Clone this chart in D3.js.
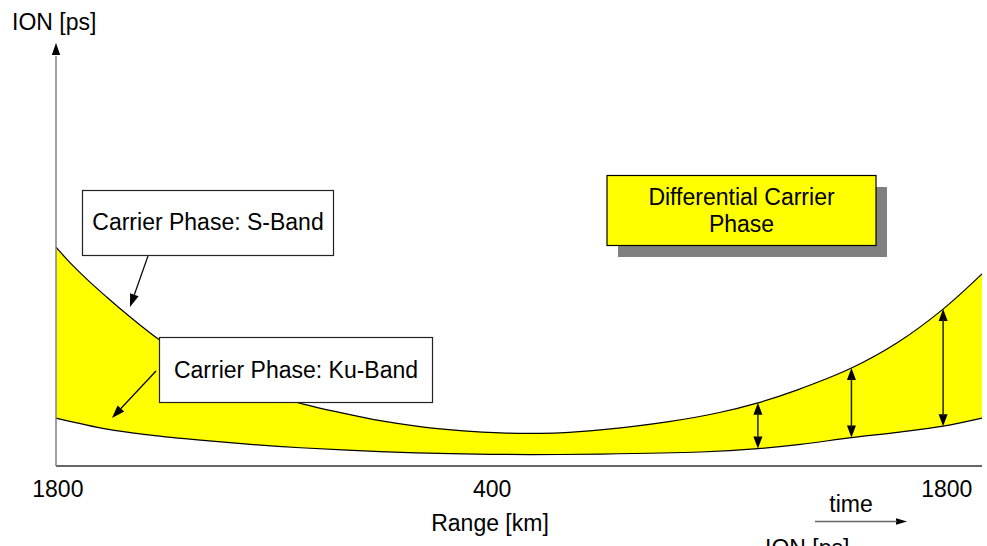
<!DOCTYPE html>
<html>
<head>
<meta charset="utf-8">
<script src="https://cdn.jsdelivr.net/npm/d3@7"></script>
<style>
  html, body { margin: 0; padding: 0; background: #fff; }
  svg { display: block; }
  text { font-family: "Liberation Sans", Arial, sans-serif; font-size: 23px; fill: #000; }
</style>
</head>
<body>
<svg id="chart" width="987" height="546"></svg>
<script>
// ---- data (time in % of pass, ION in arbitrary ps units) ----
const sBandTime = [0, 1.8, 3.7, 5.5, 7.2, 9.1, 11.2, 15.6, 21.0, 26.7, 30.7, 35.0, 39.3, 44.0, 48.0, 51.2, 54.4, 58.8, 66.0, 71.4, 75.8, 80.0, 85.9, 90.8, 95.8, 100];
const sBandIon  = [51.6, 47.3, 43.3, 39.8, 36.6, 33.2, 29.7, 23.6, 18.2, 14.6, 12.6, 10.7, 9.3, 8.3, 7.8, 7.7, 7.8, 8.5, 10.4, 12.5, 14.9, 17.9, 23.1, 29.0, 37.0, 45.3];
const kuBandTime = [0, 5.5, 10.2, 15.6, 21.0, 26.4, 35.0, 42.6, 51.2, 58.8, 69.6, 75.8, 80.4, 85.9, 91.1, 95.8, 100];
const kuBandIon  = [11.3, 8.7, 7.3, 6.1, 5.1, 4.3, 3.4, 2.9, 2.7, 2.8, 3.3, 4.1, 5.1, 6.7, 8.0, 9.4, 11.3];
const diffTime   = [75.8, 85.9, 95.8];
const diffTop    = [14.9, 23.1, 37.0];
const diffBottom = [4.1, 6.7, 9.4];
const tickTime   = [0.2, 47.1, 96.2];
const tickLabels = ["1800", "400", "1800"];

const svg = d3.select("#chart");
const x = d3.scaleLinear().domain([0, 100]).range([56, 982]);
const y = d3.scaleLinear().domain([0, 100]).range([466, 42]);

const sBand = sBandTime.map((t, i) => ({t, v: sBandIon[i]}));
const kuBand = kuBandTime.map((t, i) => ({t, v: kuBandIon[i]}));

// arrow head helper
function head(g, x1, y1, x2, y2, len, hw, fill) {
  const dx = x2 - x1, dy = y2 - y1, L = Math.hypot(dx, dy);
  const ux = dx / L, uy = dy / L;
  const bx = x2 - ux * len, by = y2 - uy * len;
  g.append("path")
    .attr("d", `M${x2},${y2}L${bx - uy * hw},${by + ux * hw}L${bx + uy * hw},${by - ux * hw}Z`)
    .attr("fill", fill || "#000");
  return [bx, by];
}

// ---- filled band between the two curves ----
const line = d3.line().x(d => x(d.t)).y(d => y(d.v)).curve(d3.curveCatmullRom.alpha(0.5));
const upPath = line(sBand);
const loRevPath = line(kuBand.slice().reverse()).replace(/^M/, "L");
svg.append("path").attr("d", upPath + loRevPath + "Z").attr("fill", "#ffff00");

svg.append("path").attr("d", line(sBand)).attr("fill", "none").attr("stroke", "#000").attr("stroke-width", 1.2);
svg.append("path").attr("d", line(kuBand)).attr("fill", "none").attr("stroke", "#000").attr("stroke-width", 1.2);

// ---- axes ----
const axes = svg.append("g");
axes.append("line").attr("x1", x(0)).attr("x2", x(100)).attr("y1", y(0)).attr("y2", y(0))
  .attr("stroke", "#333").attr("stroke-width", 1.5);
const [yb1, yb2] = head(axes, x(0), y(0), x(0), 43, 12, 4.2, "#000");
axes.append("line").attr("x1", x(0)).attr("x2", x(0)).attr("y1", y(0)).attr("y2", yb2 + 1)
  .attr("stroke", "#808080").attr("stroke-width", 1.5);

svg.append("text").attr("x", 12).attr("y", 30).text("ION [ps]");

svg.append("g").selectAll("text").data(tickTime).join("text")
  .attr("x", d => x(d)).attr("y", 497).attr("text-anchor", "middle")
  .text((d, i) => tickLabels[i]);

svg.append("text").attr("x", 490).attr("y", 531).attr("text-anchor", "middle").text("Range [km]");

// time arrow
svg.append("text").attr("x", 851).attr("y", 512).attr("text-anchor", "middle").text("time");
const tg = svg.append("g");
const [tb] = head(tg, 815, 521.5, 907, 521.5, 11, 3.2, "#000");
tg.append("line").attr("x1", 815).attr("x2", tb + 1).attr("y1", 521.5).attr("y2", 521.5)
  .attr("stroke", "#666").attr("stroke-width", 1.5);

svg.append("text").attr("x", 765).attr("y", 555.5).text("ION [ps]");

// ---- double arrows (differential) ----
const dg = svg.append("g");
diffTime.forEach((t, i) => {
  const xx = x(t), yt = y(diffTop[i]), yb = y(diffBottom[i]);
  head(dg, xx, yb, xx, yt, 12, 4.5);
  head(dg, xx, yt, xx, yb, 12, 4.5);
  dg.append("line").attr("x1", xx).attr("x2", xx).attr("y1", yt + 10).attr("y2", yb - 10)
    .attr("stroke", "#222").attr("stroke-width", 1.5);
});

// ---- annotation boxes ----
// Differential Carrier Phase
svg.append("rect").attr("x", 618).attr("y", 187).attr("width", 269).attr("height", 70).attr("fill", "#808080");
svg.append("rect").attr("x", 607).attr("y", 175.5).attr("width", 269).attr("height", 70)
  .attr("fill", "#ffff00").attr("stroke", "#000").attr("stroke-width", 1.2);
svg.append("text").attr("x", 741.5).attr("y", 205).attr("text-anchor", "middle").text("Differential Carrier");
svg.append("text").attr("x", 741.5).attr("y", 232).attr("text-anchor", "middle").text("Phase");

// S-Band box + pointer
const sg = svg.append("g");
const [sbx, sby] = head(sg, 148, 256, 130, 307, 13, 4.5);
sg.append("line").attr("x1", 148).attr("y1", 256).attr("x2", sbx).attr("y2", sby).attr("stroke", "#000").attr("stroke-width", 1.2);
sg.append("rect").attr("x", 82.5).attr("y", 190.5).attr("width", 251).attr("height", 65)
  .attr("fill", "#fff").attr("stroke", "#222").attr("stroke-width", 1.2);
sg.append("text").attr("x", 208).attr("y", 230).attr("text-anchor", "middle").text("Carrier Phase: S-Band");

// Ku-Band box + pointer
const kg = svg.append("g");
const [kbx, kby] = head(kg, 156, 371, 112, 418, 13, 4.5);
kg.append("line").attr("x1", 156).attr("y1", 371).attr("x2", kbx).attr("y2", kby).attr("stroke", "#000").attr("stroke-width", 1.2);
kg.append("rect").attr("x", 159.5).attr("y", 337.5).attr("width", 273).attr("height", 65)
  .attr("fill", "#fff").attr("stroke", "#222").attr("stroke-width", 1.2);
kg.append("text").attr("x", 296).attr("y", 378).attr("text-anchor", "middle").text("Carrier Phase: Ku-Band");
</script>
</body>
</html>
